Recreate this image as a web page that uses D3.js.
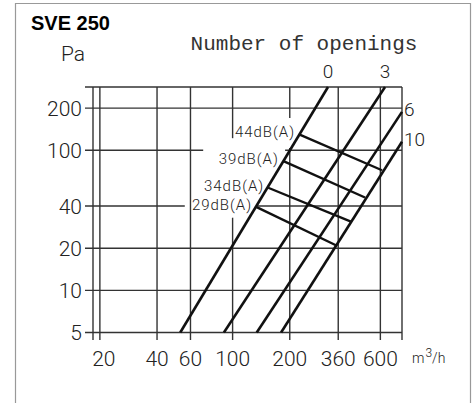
<!DOCTYPE html>
<html>
<head>
<meta charset="utf-8">
<script src="https://d3js.org/d3.v7.min.js"></script>
<style>
  body { margin: 0; background: #fff; }
  text { fill: #222; }
  .tick-label { font-family: Roboto, "DejaVu Sans", sans-serif; font-weight: 300; font-size: 21px; }
  .db-label { font-family: Roboto, sans-serif; font-weight: 300; font-size: 15px; letter-spacing: 1px; }
</style>
</head>
<body>
<svg id="chart" width="473" height="403"></svg>
<script>
var svg = d3.select("#chart");
const width = +svg.attr("width");
const height = +svg.attr("height");

// airflow (m3/h) and pressure (Pa) ticks
const flowTicks = [20, 40, 60, 100, 200, 360, 600];
const pressureTicks = [5, 10, 20, 40, 100, 200];

// pressure drop lines, one per number of openings: [flow, pressure] endpoints
const openingNames = ["0", "3", "6", "10"];
const openingLines = [
  [[53, 5], [318, 283]],
  [[90, 5], [635, 283]],
  [[134, 5], [780, 188]],
  [[180, 5], [780, 115]]
];

// sound level lines, from the 0 line to the 10 line
const soundNames = ["44dB(A)", "39dB(A)", "34dB(A)", "29dB(A)"];
const soundLines = [
  [[224, 130], [612, 72]],
  [[184, 84], [498, 46]],
  [[154, 54], [420, 31]],
  [[133, 39.4], [350, 21]]
];

// gaps in the grid where labels sit
const flowGaps = { 100: [33, 122], 200: [104, 170] };
const pressureGaps = { 100: [70, 189], 40: [56, 136] };

const flowDomain = [18.4, 780];
const pressureDomain = [5, 283];

const x = d3.scaleLog().domain(flowDomain).range([93, 402]);
const y = d3.scaleLog().domain(pressureDomain).range([332.5, 87]);

// outer frame, open at the bottom
svg.append("path")
  .attr("d", "M15.5," + (height + 2) + "V3.5H470.5V" + (height + 2))
  .attr("fill", "none")
  .attr("stroke", "#999")
  .attr("stroke-width", 1.2);

svg.append("text")
  .attr("x", 31).attr("y", 30)
  .style("font-family", "'Liberation Sans', Arial, sans-serif")
  .style("font-weight", "bold")
  .style("font-size", "20px")
  .style("fill", "#000")
  .text("SVE 250");

svg.append("text")
  .attr("class", "tick-label")
  .attr("x", 61).attr("y", 61)
  .text("Pa");

svg.append("text")
  .attr("x", 304).attr("y", 50)
  .attr("text-anchor", "middle")
  .style("font-family", "'Liberation Mono', 'Courier New', monospace")
  .style("font-size", "21px")
  .style("fill", "#333")
  .text("Number of openings");

var grid = svg.append("g")
  .attr("stroke", "#333")
  .attr("stroke-width", 1.4)
  .attr("fill", "none");

var xLeft = 85, xRight = x(flowDomain[1]);
var yTop = y(pressureDomain[1]), yBottom = 340;

// horizontal grid lines (ticks plus top border)
pressureTicks.concat([pressureDomain[1]]).forEach(function (p) {
  var gap = pressureGaps[p];
  var segs = gap ? [[xLeft, x(gap[0])], [x(gap[1]), xRight]] : [[xLeft, xRight]];
  segs.forEach(function (s) {
    grid.append("line")
      .attr("x1", s[0]).attr("x2", s[1])
      .attr("y1", y(p)).attr("y2", y(p));
  });
});

// vertical grid lines (ticks plus left and right border)
flowTicks.concat(flowDomain).forEach(function (q) {
  var gap = flowGaps[q];
  var segs = gap ? [[yTop, y(gap[1])], [y(gap[0]), yBottom]] : [[yTop, yBottom]];
  segs.forEach(function (s) {
    grid.append("line")
      .attr("x1", x(q)).attr("x2", x(q))
      .attr("y1", s[0]).attr("y2", s[1]);
  });
});

// axis labels
svg.selectAll(".ylab")
  .data(pressureTicks)
  .enter().append("text")
  .attr("class", "tick-label")
  .attr("x", 82)
  .attr("y", function (d) { return y(d); })
  .attr("dy", "0.36em")
  .attr("text-anchor", "end")
  .text(function (d) { return d; });

svg.selectAll(".xlab")
  .data(flowTicks)
  .enter().append("text")
  .attr("class", "tick-label")
  .attr("x", function (d, i) { return x(d) + (i === 0 ? 4 : 0); })
  .attr("y", 366)
  .attr("text-anchor", "middle")
  .text(function (d) { return d; });

var unit = svg.append("text")
  .attr("x", 412).attr("y", 363)
  .style("font-family", "Roboto, sans-serif")
  .style("font-weight", 300)
  .style("font-size", "14px");
unit.append("tspan").text("m");
unit.append("tspan").attr("dy", -6).attr("dx", 1).style("font-size", "12px").text("3");
unit.append("tspan").attr("dy", 6).text("/h");

var line = d3.line()
  .x(function (d) { return x(d[0]); })
  .y(function (d) { return y(d[1]); });

// opening lines
svg.selectAll(".opening")
  .data(openingLines)
  .enter().append("path")
  .attr("d", line)
  .attr("fill", "none")
  .attr("stroke", "#111")
  .attr("stroke-width", 2.6);

openingLines.forEach(function (l, i) {
  var end = l[1];
  var atTop = end[1] >= pressureDomain[1];
  svg.append("text")
    .attr("class", "tick-label")
    .style("font-size", "19px")
    .attr("x", atTop ? x(end[0]) : x(end[0]) + 2)
    .attr("y", atTop ? y(end[1]) - 9 : y(end[1]) + 4)
    .attr("text-anchor", atTop ? "middle" : "start")
    .text(openingNames[i]);
});

// sound level lines
svg.selectAll(".sound")
  .data(soundLines)
  .enter().append("path")
  .attr("d", line)
  .attr("fill", "none")
  .attr("stroke", "#111")
  .attr("stroke-width", 2.4);

svg.selectAll(".db-label")
  .data(soundLines)
  .enter().append("text")
  .attr("class", "db-label")
  .attr("x", function (d) { return x(d[0][0]) - 4; })
  .attr("y", function (d) { return y(d[0][1]) + 3; })
  .attr("text-anchor", "end")
  .text(function (d, i) { return soundNames[i]; });
</script>
</body>
</html>
